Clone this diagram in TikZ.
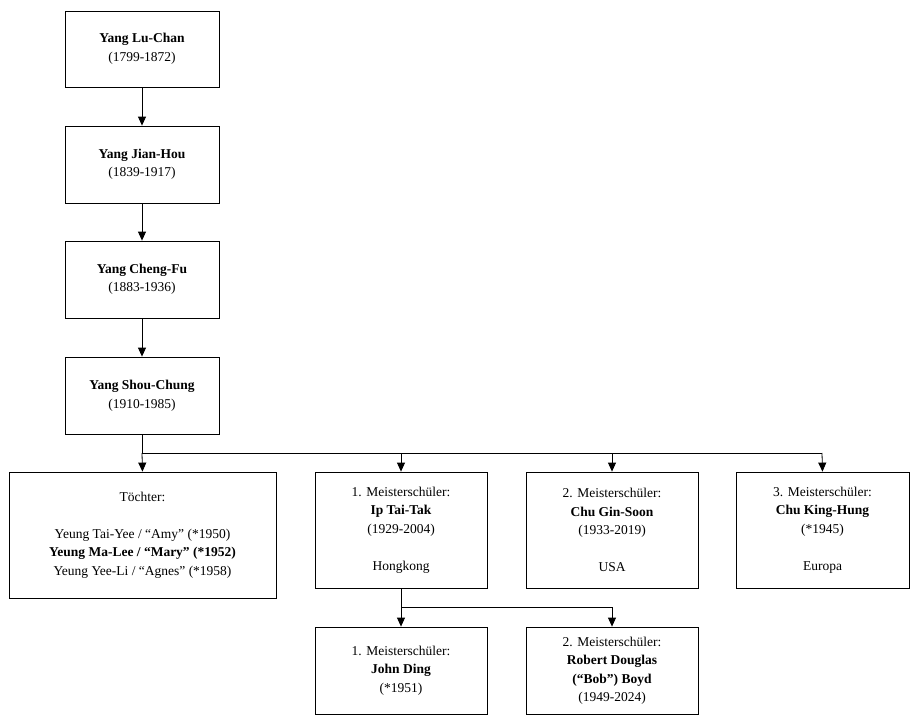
\documentclass[tikz,border=0pt]{standalone}
\usepackage{fontspec}
\setmainfont{Liberation Serif}
\usetikzlibrary{arrows.meta}
\begin{document}
\begin{tikzpicture}[x=1pt,y=-1pt,
  box/.style={draw,line width=0.8pt,align=center,font=\fontsize{13.5}{18.5}\selectfont,inner sep=0pt},
  arr/.style={line width=0.8pt,-{Triangle[length=9pt,width=8pt]}},
  ln/.style={line width=0.8pt}]
\useasboundingbox (0,0) rectangle (918,725);
\node[box,minimum width=154,minimum height=76] (a) at (142,49) {\textbf{Yang Lu-Chan}\\(1799-1872)};
\node[box,minimum width=154,minimum height=77] (b) at (142,164.5) {\textbf{Yang Jian-Hou}\\(1839-1917)};
\node[box,minimum width=154,minimum height=77] (c) at (142,279.5) {\textbf{Yang Cheng-Fu}\\(1883-1936)};
\node[box,minimum width=154,minimum height=77] (d) at (142,395.5) {\textbf{Yang Shou-Chung}\\(1910-1985)};
\node[box,minimum width=267,minimum height=126] (t) at (142.5,535) {Töchter:\\[18.5pt]Yeung Tai-Yee / “Amy” (*1950)\\\textbf{Yeung Ma-Lee / “Mary” (*1952)}\\Yeung Yee-Li / “Agnes” (*1958)};
\node[box,minimum width=172,minimum height=116] (ip) at (401,530) {1. Meisterschüler:\\\textbf{Ip Tai-Tak}\\(1929-2004)\\[18.5pt]Hongkong};
\node[box,minimum width=172,minimum height=116] (cg) at (612,530) {2. Meisterschüler:\\\textbf{Chu Gin-Soon}\\(1933-2019)\\[18.5pt]USA};
\node[box,minimum width=173,minimum height=116] (ck) at (822.5,530) {3. Meisterschüler:\\\textbf{Chu King-Hung}\\(*1945)\\[18.5pt]Europa};
\node[box,minimum width=172,minimum height=87] (jd) at (401,670.5) {1. Meisterschüler:\\\textbf{John Ding}\\(*1951)};
\node[box,minimum width=172,minimum height=87] (rb) at (612,670.5) {2. Meisterschüler:\\\textbf{Robert Douglas}\\\textbf{(“Bob”) Boyd}\\(1949-2024)};
\draw[arr] (a) -- (b);
\draw[arr] (b) -- (c);
\draw[arr] (c) -- (d);
\coordinate (j) at (142,453);
\draw[ln] (d.south) -- (j) -- (822,453);
\draw[arr] (j) -- (t.north);
\draw[arr] (401,453) -- (ip.north);
\draw[arr] (612,453) -- (cg.north);
\draw[arr] (822,453) -- (ck.north);
\coordinate (k) at (401,607);
\draw[ln] (ip.south) -- (k) -- (612,607);
\draw[arr] (k) -- (jd.north);
\draw[arr] (612,607) -- (rb.north);
\end{tikzpicture}
\end{document}
